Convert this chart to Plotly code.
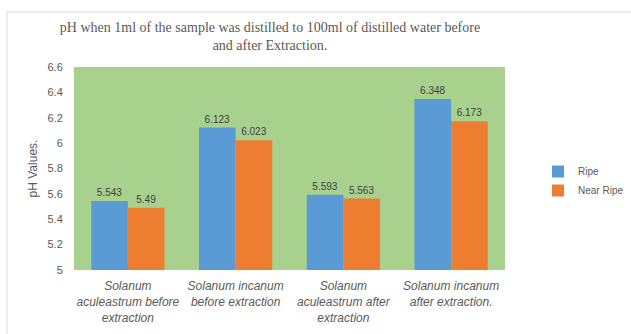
import plotly.graph_objects as go

categories = [
    "Solanum<br>aculeastrum before<br>extraction",
    "Solanum incanum<br>before extraction",
    "Solanum<br>aculeastrum after<br>extraction",
    "Solanum incanum<br>after extraction.",
]
ripe = [5.543, 6.123, 5.593, 6.348]
near_ripe = [5.49, 6.023, 5.563, 6.173]
y_ticks = [5, 5.2, 5.4, 5.6, 5.8, 6, 6.2, 6.4, 6.6]

W, H = 631, 334
L, R, T, B = 74, 126, 67, 64
pw, ph = W - L - R, H - T - B


def px(x):
    return (x - L) / pw


def py(y):
    return (H - B - y) / ph


fig = go.Figure()
for name, vals, color in [("Ripe", ripe, "#5B9BD5"), ("Near Ripe", near_ripe, "#ED7D31")]:
    fig.add_trace(go.Bar(
        x=categories, y=vals, name=name, marker=dict(color=color, line=dict(width=0)),
        text=[f"{v:g}" for v in vals], textposition="outside",
        textfont=dict(family="Liberation Sans", size=10, color="#404040"),
        cliponaxis=False,
    ))

fig.update_layout(
    width=W, height=H,
    margin=dict(l=L, r=R, t=T, b=B, autoexpand=False),
    paper_bgcolor="white",
    plot_bgcolor="#A9D18E",
    barmode="group", bargap=0.32, bargroupgap=0,
    title=dict(
        text="pH when 1ml of the sample was distilled to 100ml of distilled water before<br>and after Extraction.",
        x=270 / W, xanchor="center", y=1 - 32 / H, yanchor="middle",
        font=dict(family="Liberation Serif", size=14, color="#595959"),
    ),
    showlegend=True,
    legend=dict(
        x=px(538), y=py(181), xanchor="left", yanchor="middle",
        font=dict(family="Liberation Sans", size=10, color="#595959"),
        itemwidth=30, tracegroupgap=2, bgcolor="rgba(0,0,0,0)",
    ),
    font=dict(family="Liberation Sans", color="#595959"),
)
fig.update_yaxes(
    range=[5, 6.6], tickvals=y_ticks, ticktext=[f"{v:g}" for v in y_ticks],
    showgrid=False, zeroline=False, showline=False,
    ticks="outside", ticklen=8, tickcolor="rgba(0,0,0,0)",
    tickfont=dict(family="Liberation Sans", size=11, color="#595959"),
    title=dict(text="pH Values.", font=dict(family="Liberation Sans", size=12, color="#595959"), standoff=7),
)
fig.update_xaxes(
    showgrid=False, showline=False,
    ticks="outside", ticklen=5, tickcolor="rgba(0,0,0,0)",
    tickfont=dict(family="Liberation Sans", size=12, color="#595959", style="italic"),
)
# light frame around the whole chart
fig.add_shape(type="rect", xref="paper", yref="paper",
              x0=px(7), x1=px(640), y0=py(340), y1=py(12),
              line=dict(color="#D9D9D9", width=1), fillcolor="rgba(0,0,0,0)", layer="below")

fig.write_html("out.html")
